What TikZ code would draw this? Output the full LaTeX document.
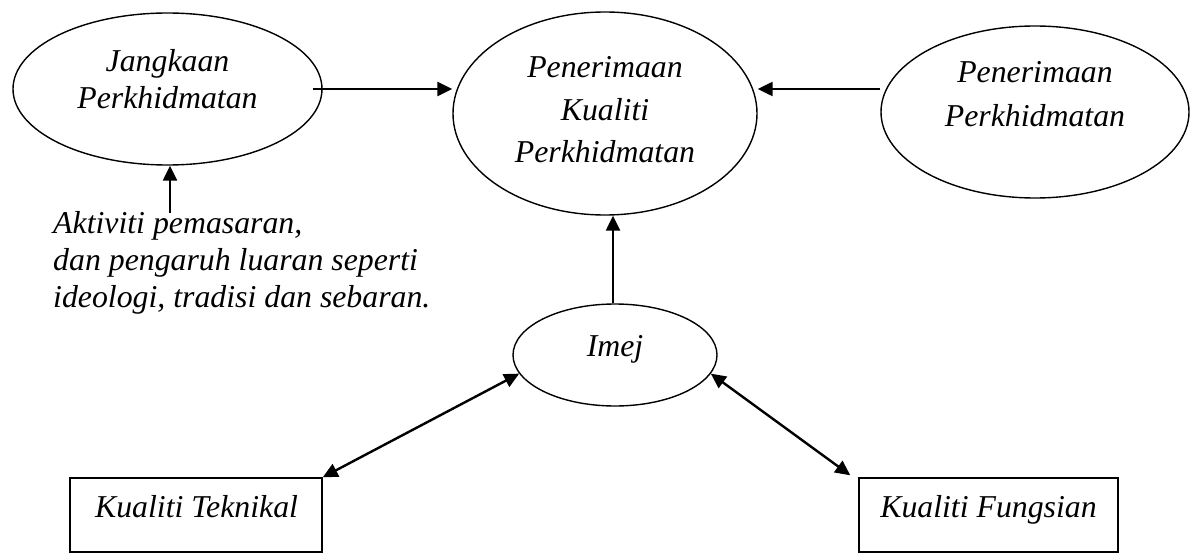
\documentclass[tikz,border=0pt]{standalone}
\usepackage{fontspec}
\setmainfont{Liberation Serif}
\usetikzlibrary{shapes.geometric,arrows.meta}
\newcommand\txtblk[2]{\parbox[t]{320pt}{\centering\fontsize{31.8}{#1}\selectfont\itshape #2}}
\begin{document}
\begin{tikzpicture}[x=1pt,y=-1pt,
  ell/.style={ellipse,draw,line width=1.4pt,inner sep=0pt},
  boxn/.style={rectangle,draw,line width=1.4pt,inner sep=0pt},
  txt/.style={inner sep=0pt,anchor=base},
  lbl/.style={inner sep=0pt,anchor=base,font=\fontsize{31.8}{37}\selectfont\itshape},
  arr/.style={line width=2.4pt,-{Triangle[length=15pt,width=14pt]}},
  darr/.style={line width=2.4pt,{Triangle[length=15pt,width=14pt]}-{Triangle[length=15pt,width=14pt]}}]
\useasboundingbox (0,0) rectangle (1198,556);
% ellipses
\node[ell,minimum width=309pt,minimum height=152pt] (jk) at (167.5,89) {};
\node[ell,minimum width=304pt,minimum height=203pt] (pkp) at (605,113.5) {};
\node[ell,minimum width=308pt,minimum height=172pt] (pp) at (1035,112) {};
\node[ell,minimum width=204pt,minimum height=102pt] (im) at (615,355) {};
% boxes
\node[boxn,minimum width=252pt,minimum height=74pt] (tk) at (196,515) {};
\node[boxn,minimum width=259pt,minimum height=74pt] (fs) at (988.5,515) {};
% texts
\node[txt] (jkt) at (167.5,72) {\txtblk{36.7}{Jangkaan\\Perkhidmatan}};
\node[txt] (pkpt) at (605,78) {\txtblk{42.5}{Penerimaan\\Kualiti\\Perkhidmatan}};
\node[txt] (ppt) at (1035,83) {\txtblk{44}{Penerimaan\\Perkhidmatan}};
\node[lbl] (imt) at (615,356) {Imej};
\node[lbl] (tkt) at (196.5,517) {Kualiti Teknikal};
\node[lbl] (fst) at (988.5,517) {Kualiti Fungsian};
\node[inner sep=0pt,anchor=base west] (akt) at (53,233)
  {\parbox[t]{420pt}{\raggedright\fontsize{31.8}{37}\selectfont\itshape
   Aktiviti pemasaran,\\ dan pengaruh luaran seperti\\ ideologi, tradisi dan sebaran.}};
\coordinate (aktop) at (170,213);
% connectors
\draw[arr] ([xshift=-10pt]jk.east) -- (pkp.west |- jk.east);
\draw[arr] (pp.west |- jk.east) -- (pkp.east |- jk.east);
\draw[arr] (aktop) -- (aktop |- jk.south);
\draw[arr] ([xshift=-2pt]im.north) -- ([xshift=-2pt]im.north |- pkp.south);
\draw[darr] (tk.north east) -- (im.191);
\draw[darr] (im.349) -- ([xshift=-8pt,yshift=2pt]fs.north west);
\end{tikzpicture}
\end{document}
